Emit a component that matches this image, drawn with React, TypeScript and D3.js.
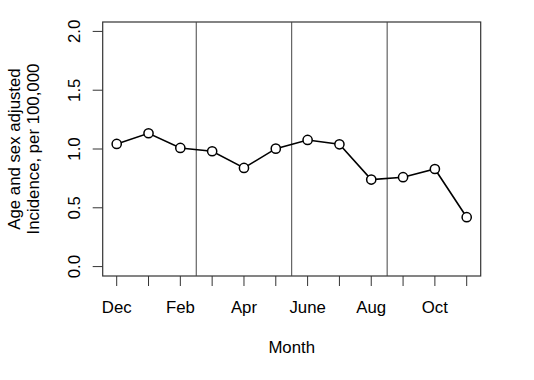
import React from "react";
import * as d3 from "d3";

const months = ["Dec", "Jan", "Feb", "Mar", "Apr", "May", "June", "Jul", "Aug", "Sep", "Oct", "Nov"];
const incidence = [1.043, 1.134, 1.009, 0.981, 0.839, 1.003, 1.077, 1.04, 0.74, 0.76, 0.83, 0.42];
const labeledMonths = ["Dec", "Feb", "Apr", "June", "Aug", "Oct"];
const yTicks = [0, 0.5, 1.0, 1.5, 2.0];
const dividers = [3.5, 6.5, 9.5];

const W = 534, H = 380;
const L = 102.7, R = 480.7, T = 22, B = 276;
const FONT = "'Liberation Sans', Arial, Helvetica, sans-serif";
const FS = 16.8;

export default function App() {
  const x = d3.scaleLinear().domain([0.56, 12.44]).range([L, R]);
  const y = d3.scaleLinear().domain([-0.08, 2.08]).range([B, T]);
  const pts = incidence.map((v, i) => [x(i + 1), y(v)] as [number, number]);
  const line = d3.line();
  return (
    <svg width={W} height={H} style={{ position: "absolute", left: 0, top: 0, background: "#fff" }}>
      <rect x={L} y={T} width={R - L} height={B - T} fill="none" stroke="#333" strokeWidth={1.2} />
      {dividers.map((d) => (
        <line key={d} x1={x(d)} x2={x(d)} y1={T} y2={B} stroke="#444" strokeWidth={1} />
      ))}
      {months.map((m, i) => (
        <line key={m} x1={x(i + 1)} x2={x(i + 1)} y1={B} y2={B + 10} stroke="#333" strokeWidth={1} />
      ))}
      {months.map((m, i) =>
        labeledMonths.includes(m) ? (
          <text key={"l" + m} x={x(i + 1)} y={313} textAnchor="middle" fontFamily={FONT} fontSize={FS} fill="#000">
            {m}
          </text>
        ) : null
      )}
      {yTicks.map((t) => (
        <g key={t}>
          <line x1={L - 10} x2={L} y1={y(t)} y2={y(t)} stroke="#333" strokeWidth={1} />
          <text
            transform={`translate(79.5,${y(t)}) rotate(-90)`}
            textAnchor="middle"
            fontFamily={FONT}
            fontSize={FS}
            fill="#000"
          >
            {t.toFixed(1)}
          </text>
        </g>
      ))}
      <path d={line(pts) || ""} fill="none" stroke="#000" strokeWidth={1.6} />
      {pts.map((p, i) => (
        <circle key={i} cx={p[0]} cy={p[1]} r={4.6} fill="#fff" stroke="#000" strokeWidth={1.5} />
      ))}
      <text x={(L + R) / 2} y={353} textAnchor="middle" fontFamily={FONT} fontSize={FS} fill="#000">
        Month
      </text>
      <text transform={`translate(19.5,${(T + B) / 2}) rotate(-90)`} textAnchor="middle" fontFamily={FONT} fontSize={FS} fill="#000">
        Age and sex adjusted
      </text>
      <text transform={`translate(38.5,${(T + B) / 2}) rotate(-90)`} textAnchor="middle" fontFamily={FONT} fontSize={FS} fill="#000">
        Incidence, per 100,000
      </text>
    </svg>
  );
}
